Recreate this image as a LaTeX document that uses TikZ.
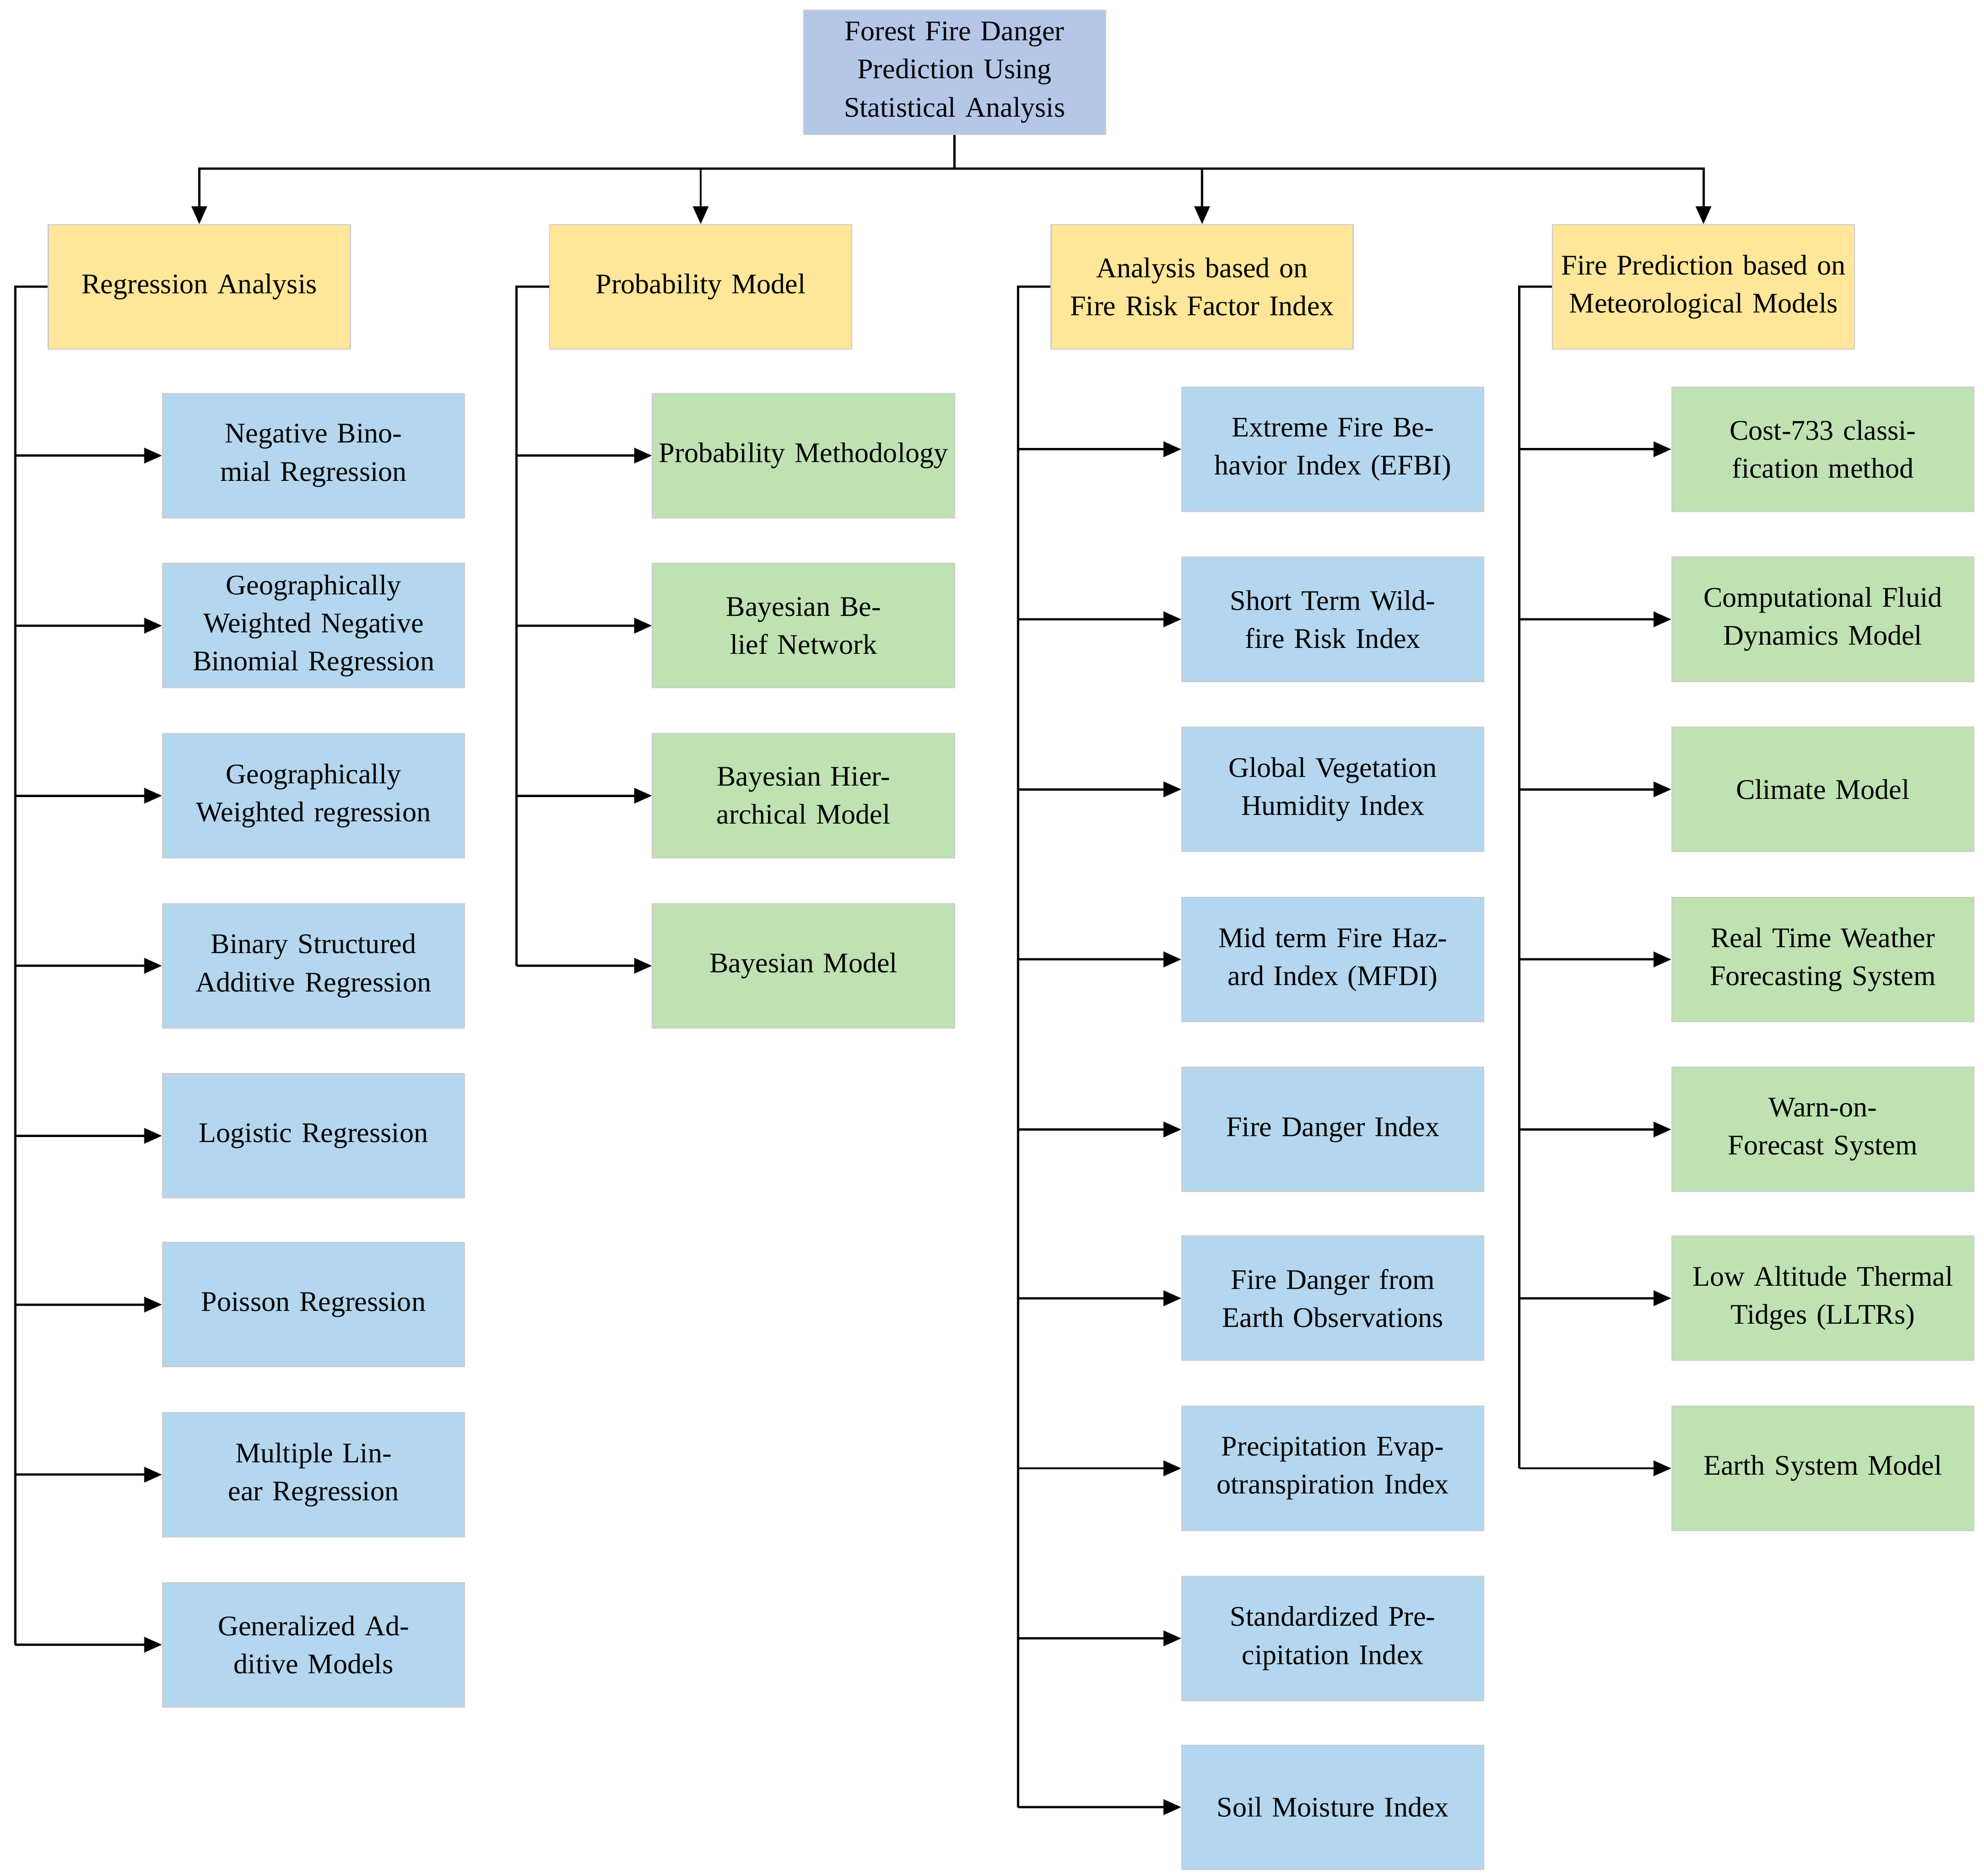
\documentclass[tikz,border=0pt]{standalone}
\usepackage{fontspec}
\setmainfont{Liberation Serif}
\usetikzlibrary{arrows.meta}
\begin{document}
\begin{tikzpicture}[x=0.5pt,y=-0.5pt,
  box/.style={draw=black!20,minimum width=119pt,minimum height=49pt,text width=115pt,align=center,inner sep=1pt,font=\fontsize{11.2pt}{15pt}\selectfont},
  root/.style={box,fill=rootc},
  cat/.style={box,fill=catc},
  bl/.style={box,fill=bluec},
  gr/.style={box,fill=greenc},
  ln/.style={line width=0.9pt},
  ar/.style={ln,-{Triangle[length=7pt,width=6pt]}}]
\definecolor{rootc}{HTML}{B4C7E7}
\definecolor{catc}{HTML}{FFE699}
\definecolor{bluec}{HTML}{B4D6EE}
\definecolor{greenc}{HTML}{BEE2B2}
\useasboundingbox[fill=white] (0,0) rectangle (1563,1478);
\node[root] (root) at (752,57) {Forest Fire Danger Prediction Using Statistical Analysis};
\node[cat] (c1) at (157,226) {Regression Analysis};
\node[cat] (c2) at (552,226) {Probability Model};
\node[cat] (c3) at (947,226) {Analysis based on Fire Risk Factor Index};
\node[cat] (c4) at (1342,226) {Fire Prediction based on Meteorological Models};
\coordinate (bus) at (752,133);
\draw[ln] (root.south) -- (bus);
\foreach \c in {c1,c2,c3,c4}{\draw[ar] (bus) -| (\c.north);}
% column 1
\foreach \n/\y/\t in {a1/359/{Negative Binomial Regression},a2/493/{Geographically Weighted Negative Binomial Regression},a3/627/{Geographically Weighted regression},a4/761/{Binary Structured Additive Regression},a5/895/{Logistic Regression},a6/1028/{Poisson Regression},a7/1162/{Multiple Linear Regression},a8/1296/{Generalized Additive Models}}{
  \node[bl] (\n) at (247,\y) {\t};
  \coordinate (s\n) at (12,\y);
  \draw[ar] (s\n) -- (\n.west);}
\draw[ln] (c1.west) -| (sa8);
% column 2
\foreach \n/\y/\t in {b1/359/{Probability Methodology},b2/493/{Bayesian Belief Network},b3/627/{Bayesian Hierarchical Model},b4/761/{Bayesian Model}}{
  \node[gr] (\n) at (633,\y) {\t};
  \coordinate (s\n) at (407,\y);
  \draw[ar] (s\n) -- (\n.west);}
\draw[ln] (c2.west) -| (sb4);
% column 3
\foreach \n/\y/\t in {d1/354/{Extreme Fire Behavior Index (EFBI)},d2/488/{Short Term Wildfire Risk Index},d3/622/{Global Vegetation Humidity Index},d4/756/{Mid term Fire Hazard Index (MFDI)},d5/890/{Fire Danger Index},d6/1023/{Fire Danger from Earth Observations},d7/1157/{Precipitation Evapotranspiration Index},d8/1291/{Standardized Precipitation Index},d9/1424/{Soil Moisture Index}}{
  \node[bl] (\n) at (1050,\y) {\t};
  \coordinate (s\n) at (802,\y);
  \draw[ar] (s\n) -- (\n.west);}
\draw[ln] (c3.west) -| (sd9);
% column 4
\foreach \n/\y/\t in {e1/354/{Cost-733 classification method},e2/488/{Computational Fluid Dynamics Model},e3/622/{Climate Model},e4/756/{Real Time Weather Forecasting System},e5/890/{Warn-on-Forecast System},e6/1023/{Low Altitude Thermal Tidges (LLTRs)},e7/1157/{Earth System Model}}{
  \node[gr] (\n) at (1436,\y) {\t};
  \coordinate (s\n) at (1197,\y);
  \draw[ar] (s\n) -- (\n.west);}
\draw[ln] (c4.west) -| (se7);
\end{tikzpicture}
\end{document}
